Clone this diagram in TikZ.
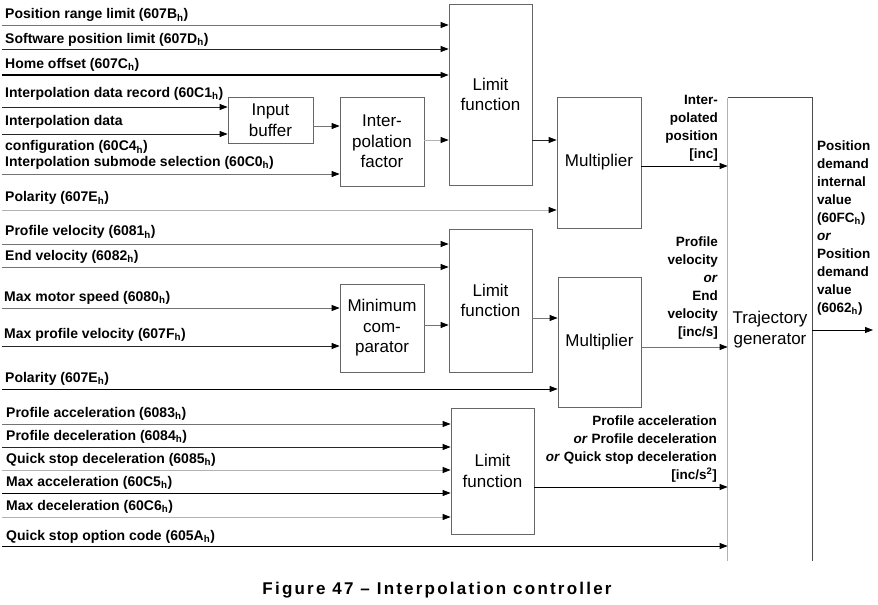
\documentclass[tikz,border=0pt]{standalone}
\usepackage{fontspec}
\setmainfont{Liberation Sans}
\usetikzlibrary{arrows.meta,fit}
\newcommand\hs{\textsubscript{h}}
\colorlet{lnA}{black!85}
\colorlet{lnB}{black!55}
\colorlet{lnC}{black!30}
\begin{document}
\begin{tikzpicture}[x=1bp,y=-1bp,
  lbl/.style={font={\fontsize{14bp}{18bp}\selectfont\bfseries}, inner sep=0pt, anchor=base west},
  rlbl/.style={font={\fontsize{13.5bp}{18bp}\selectfont\bfseries}, inner sep=0pt, align=right, anchor=north east},
  llbl/.style={font={\fontsize{13.5bp}{18bp}\selectfont\bfseries}, inner sep=0pt, align=left, anchor=north west},
  blk/.style={draw=black!60, line width=0.8bp, inner sep=0pt},
  btxt/.style={inner sep=0pt, align=center, font={\fontsize{17bp}{20.5bp}\selectfont}},
  arr/.style={line width=0.8bp, -{Triangle[length=8bp,width=6bp,color=black]}},
]
\useasboundingbox (0,0) rectangle (878,605);

% blocks
\node[blk, fit={(449,4)(532,185)}] (lim1) {};
\node[blk, fit={(228,97)(313,143)}] (ib) {};
\node[blk, fit={(340,97)(424,186)}] (fac) {};
\node[blk, fit={(557,97)(641,228)}] (m1) {};
\node[blk, fit={(449,229)(532,372)}] (lim2) {};
\node[blk, fit={(340,284)(424,372)}] (mc) {};
\node[blk, fit={(558,277)(641,407)}] (m2) {};
\node[blk, fit={(451,408)(534,534)}] (lim3) {};
\node[blk, draw=none, fit={(728,98)(812,561)}] (tg) {};
\draw[lnC, line width=0.8bp] (tg.south west) -- (tg.north west);
\draw[black!70, line width=0.8bp] (tg.north west) -- (tg.north east) -- (tg.south east);

\node[btxt] (lim1t) at (lim1.center) {Limit\\function};
\node[btxt] (ibt) at (ib.center) {Input\\buffer};
\node[btxt] (fact) at (fac.center) {Inter-\\polation\\factor};
\node[btxt] (m1t) at (m1.center) {Multiplier};
\node[btxt] (lim2t) at (lim2.center) {Limit\\function};
\node[btxt] (mct) at (mc.center) {Minimum\\com-\\parator};
\node[btxt] (m2t) at (m2.center) {Multiplier};
\node[btxt] (lim3t) at (lim3.center) {Limit\\function};
\node[btxt] (tgt) at (tg.center) {Trajectory\\generator};

% left labels
\node[lbl] (tPRL) at (5,19) {Position range limit (607B\hs)};
\node[lbl] (tSPL) at (5,43.5) {Software position limit (607D\hs)};
\node[lbl] (tHO) at (5,68.5) {Home offset (607C\hs)};
\node[lbl] (tIDR) at (5,97.5) {Interpolation data record (60C1\hs)};
\node[lbl] (tID) at (5,126) {Interpolation data};
\node[lbl] (tIDc) at (5,151) {configuration (60C4\hs)};
\node[lbl] (tSUB) at (5,166.5) {Interpolation submode selection (60C0\hs)};
\node[lbl] (tPOL1) at (5,202) {Polarity (607E\hs)};
\node[lbl] (tPV) at (5,236) {Profile velocity (6081\hs)};
\node[lbl] (tEV) at (5,260.5) {End velocity (6082\hs)};
\node[lbl] (tMMS) at (4,301.5) {Max motor speed (6080\hs)};
\node[lbl] (tMPV) at (4,338.5) {Max profile velocity (607F\hs)};
\node[lbl] (tPOL2) at (5,382) {Polarity (607E\hs)};
\node[lbl] (tPA) at (6,417.5) {Profile acceleration (6083\hs)};
\node[lbl] (tPD) at (6,440.5) {Profile deceleration (6084\hs)};
\node[lbl] (tQSD) at (6,463) {Quick stop deceleration (6085\hs)};
\node[lbl] (tMA) at (6,486.5) {Max acceleration (60C5\hs)};
\node[lbl] (tMD) at (6,510) {Max deceleration (60C6\hs)};
\node[lbl] (tQS) at (6,540) {Quick stop option code (605A\hs)};

% right labels
\node[rlbl] (lInt) at (718,95) {Inter-\\polated\\position\\{[inc]}};
\node[rlbl] (lVel) at (718,237) {Profile\\velocity\\\textit{or}\\End\\velocity\\{[inc/s]}};
\node[rlbl] (lAcc) at (717,416) {Profile acceleration\\\textit{or} Profile deceleration\\\textit{or} Quick stop deceleration\\{[inc/s\textsuperscript{2}]}};
\node[llbl] (lPos) at (817,140.5) {Position\\demand\\internal\\value\\(60FC\hs)\\\textit{or}\\Position\\demand\\value\\(6062\hs)};

% caption
\node[font={\fontsize{17bp}{20bp}\selectfont\bfseries\addfontfeatures{LetterSpace=13}}, anchor=base, inner sep=0pt] (cap) at (437,594.5) {Figure 47 – Interpolation controller};

% input connectors, top
\coordinate (pPRL) at (2,25);
\coordinate (pSPL) at (2,49);
\coordinate (pHO) at (2,75);
\coordinate (pIDR) at (2,107);
\coordinate (pID) at (2,134);
\coordinate (pSUB) at (2,174);
\coordinate (pPOL1) at (2,210);
\draw[arr,lnB] (pPRL) -- (pPRL -| lim1.west);
\draw[arr,lnA] (pSPL) -- (pSPL -| lim1.west);
\draw[arr,black,line width=1.2bp] (pHO) -- (pHO -| lim1.west);
\draw[arr,lnA] (pIDR) -- (pIDR -| ib.west);
\draw[arr,lnA] (pID) -- (pID -| ib.west);
\draw[arr,lnB] (pSUB) -- (pSUB -| fac.west);
\draw[arr,lnC] (pPOL1) -- (pPOL1 -| m1.west);
\coordinate (yIB) at (0,126);
\coordinate (yF) at (0,140);
\coordinate (yM1) at (0,166);
\draw[arr,lnB] (ib.east |- yIB) -- (fac.west |- yIB);
\draw[arr,lnC] (fac.east |- yF) -- (lim1.west |- yF);
\draw[arr,lnA] (lim1.east |- yF) -- (m1.west |- yF);
\draw[arr,black] (m1.east |- yM1) -- (tg.west |- yM1);

% middle
\coordinate (pPV) at (2,244);
\coordinate (pEV) at (2,267);
\coordinate (pMMS) at (2,308);
\coordinate (pMPV) at (2,346);
\coordinate (pPOL2) at (2,389);
\draw[arr,lnB] (pPV) -- (pPV -| lim2.west);
\draw[arr,lnB] (pEV) -- (pEV -| lim2.west);
\draw[arr,lnB] (pMMS) -- (pMMS -| mc.west);
\draw[arr,lnA] (pMPV) -- (pMPV -| mc.west);
\draw[arr,black] (pPOL2) -- (pPOL2 -| m2.west);
\coordinate (yMC) at (0,325);
\coordinate (yL2) at (0,318);
\coordinate (yM2) at (0,347);
\draw[arr,lnB] (mc.east |- yMC) -- (lim2.west |- yMC);
\draw[arr,lnB] (lim2.east |- yL2) -- (m2.west |- yL2);
\draw[arr,lnB] (m2.east |- yM2) -- (tg.west |- yM2);

% bottom
\coordinate (pPA) at (2,424);
\coordinate (pPD) at (2,447);
\coordinate (pQSD) at (2,470);
\coordinate (pMA) at (2,493);
\coordinate (pMD) at (2,517);
\coordinate (pQS) at (2,546);
\draw[arr,lnB] (pPA) -- (pPA -| lim3.west);
\draw[arr,lnA] (pPD) -- (pPD -| lim3.west);
\draw[arr,lnC] (pQSD) -- (pQSD -| lim3.west);
\draw[arr,black] (pMA) -- (pMA -| lim3.west);
\draw[arr,lnC] (pMD) -- (pMD -| lim3.west);
\draw[arr,black] (pQS) -- (pQS -| tg.west);
\coordinate (yL3) at (0,487);
\draw[arr,black] (lim3.east |- yL3) -- (tg.west |- yL3);

% output
\coordinate (outE) at (873,330);
\draw[arr,black] (tg.east |- outE) -- (outE);
\end{tikzpicture}
\end{document}
